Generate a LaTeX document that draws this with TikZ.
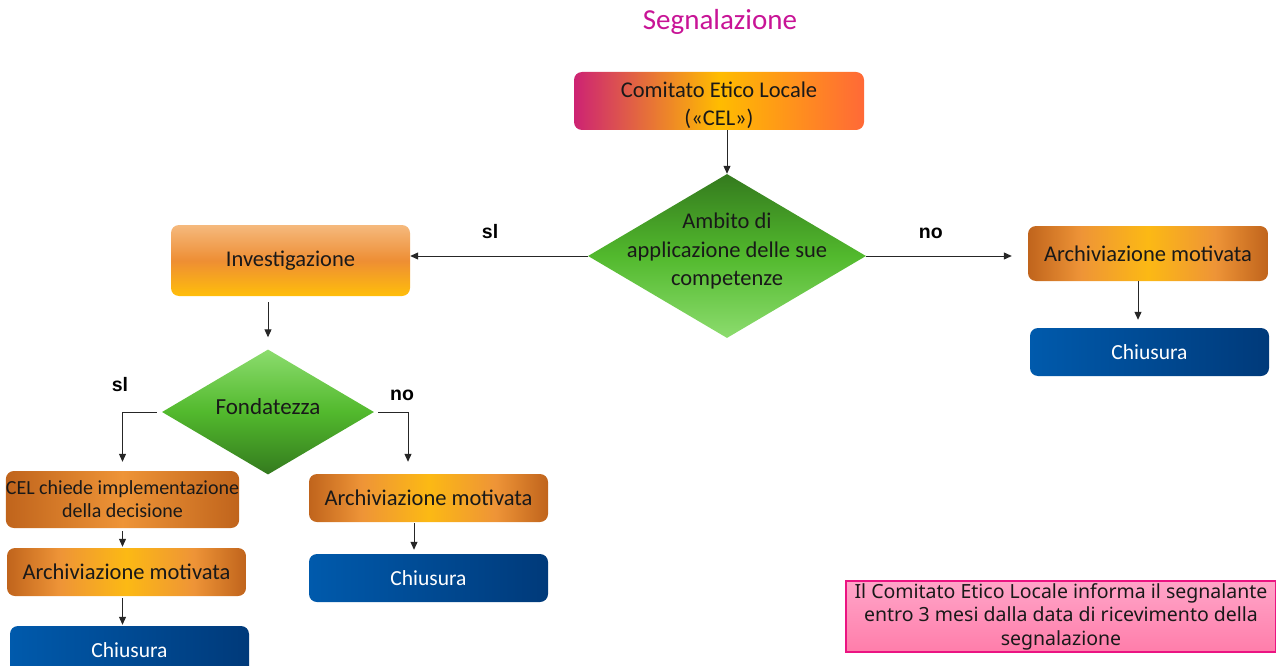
\documentclass[tikz,border=0pt]{standalone}
\usepackage{fontspec}
\setmainfont{Carlito}
\newfontfamily\labfont{Liberation Sans}
\newfontfamily\notefont{Noto Sans}
\usetikzlibrary{shapes.geometric,arrows.meta,calc}
\definecolor{txt}{RGB}{25,25,25}
\definecolor{ttl}{RGB}{200,20,150}
\definecolor{od}{RGB}{192,100,28}
\definecolor{om}{RGB}{238,148,55}
\definecolor{oy}{RGB}{252,185,20}
\definecolor{bl1}{RGB}{0,90,172}
\definecolor{bl2}{RGB}{0,58,122}
\definecolor{gd}{RGB}{52,122,30}
\definecolor{gm}{RGB}{82,185,45}
\definecolor{gl}{RGB}{140,220,110}
\definecolor{cm}{RGB}{205,35,115}
\definecolor{cy}{RGB}{255,188,0}
\definecolor{co}{RGB}{255,105,55}
\definecolor{pk1}{RGB}{255,165,200}
\definecolor{pk2}{RGB}{255,125,170}
\definecolor{pkb}{RGB}{235,20,130}
\definecolor{it}{RGB}{245,185,125}
\definecolor{im}{RGB}{238,142,52}
\definecolor{ib}{RGB}{255,190,10}
\pgfdeclarehorizontalshading{orng}{100bp}{color(0bp)=(od); color(25bp)=(od); color(36bp)=(om); color(50bp)=(oy); color(64bp)=(om); color(75bp)=(od); color(100bp)=(od)}
\pgfdeclarehorizontalshading{celsh}{100bp}{color(0bp)=(cm); color(25bp)=(cm); color(50bp)=(cy); color(75bp)=(co); color(100bp)=(co)}
\begin{document}
\begin{tikzpicture}[x=1pt,y=-1pt,
  box/.style={rounded corners=8pt, minimum width=239pt, minimum height=48pt, inner sep=2pt,
    align=center, font=\fontsize{22.5}{27}\selectfont, text=txt},
  arch/.style={box, shading=orng},
  chius/.style={box, left color=bl1, right color=bl2, text=white, font=\fontsize{21.5}{26}\selectfont},
  dia/.style={diamond, inner sep=0pt},
  dtext/.style={align=center, font=\fontsize{22.5}{28.5}\selectfont, text=txt, inner sep=0pt},
  arr/.style={-{Triangle[length=8pt,width=7pt]}, line width=1pt, draw=black!85},
  lab/.style={font=\labfont\bfseries\fontsize{19.5}{22}\selectfont, text=black}]
\useasboundingbox (0,0) rectangle (1276,666);
\clip (0,0) rectangle (1276,666);

\node[font=\fontsize{29}{34}\selectfont, text=ttl] (title) at (720,22) {Segnalazione};

\node[box, minimum width=290pt, minimum height=58pt, shading=celsh] (cel) at (719,101) {};
\node[dtext, font=\fontsize{22.5}{28}\selectfont] (celt) at (719,105) {Comitato Etico Locale\\(«CEL»)};

\node[dia, minimum width=278pt, minimum height=164pt, top color=gd, bottom color=gl, middle color=gm] (amb) at (727,256) {};
\node[dtext] (ambt) at (727,251) {Ambito di\\applicazione delle sue\\competenze};

\node[box, minimum height=71pt, top color=it, bottom color=ib, middle color=im] (inv) at (290.5,260.5) {Investigazione};

\node[arch, minimum width=240pt, minimum height=55pt] (arR) at (1148,253.5) {Archiviazione motivata};
\node[chius] (chR) at (1149.5,352) {Chiusura};

\node[dia, minimum width=212pt, minimum height=125pt, top color=gl, bottom color=gd, middle color=gm] (fon) at (268,412) {};
\node[dtext, font=\fontsize{23}{28}\selectfont] (font) at (268,407) {Fondatezza};

\node[box, minimum width=231pt, minimum height=57pt, left color=od, right color=od, middle color=om,
  font=\fontsize{20}{23}\selectfont, inner sep=0pt] (ced) at (122.5,499.5) {CEL chiede implementazione\\della decisione};
\node[arch] (arL) at (126.5,572) {Archiviazione motivata};
\node[chius] (chL) at (129.5,650) {Chiusura};

\node[arch] (arM) at (428.5,498) {Archiviazione motivata};
\node[chius] (chM) at (428.5,578) {Chiusura};

\node[minimum width=430pt, minimum height=71pt, inner sep=0pt, top color=pk1, bottom color=pk2, draw=pkb,
  line width=1.5pt, align=center, text=txt, font=\notefont\fontsize{19.5}{23.5}\selectfont] (note) at (1061,616.5)
  {Il Comitato Etico Locale informa il segnalante\\entro 3 mesi dalla data di ricevimento della\\segnalazione};

% connectors
\coordinate (xr) at (1138,0);
\draw[arr] (cel.south -| ambt.north) -- (amb.north);
\draw[arr] (amb.west) -- node[lab, above=13pt, pos=0.55] {sl} (amb.west -| inv.east);
\draw[arr, shorten >=16pt] (amb.east) -- node[lab, above=13pt, pos=0.40] {no} (amb.east -| arR.west);
\draw[arr, shorten >=8pt] (arR.south -| xr) -- (chR.north -| xr);
\draw[arr, shorten <=6pt, shorten >=12pt] (inv.south -| fon.north) -- (fon.north);
\draw[arr, shorten <=5pt, shorten >=9pt] (fon.west) -| (ced.north);
\draw[arr, shorten <=4pt, shorten >=12pt] (fon.east) -| ([xshift=-20.5pt]arM.north);
\draw[arr, shorten <=3pt, shorten >=1pt] (ced.south) -- (ced.south |- arL.north);
\draw[arr, shorten <=2pt, shorten >=1pt] (arL.south -| ced.south) -- (chL.north -| ced.south);
\draw[arr, shorten <=1pt, shorten >=4pt] ([xshift=-14.5pt]arM.south) -- ([xshift=-14.5pt]chM.north);
\node[lab] (lsl) at (120,385) {sl};
\node[lab] (lno) at (402,395) {no};
\end{tikzpicture}
\end{document}
